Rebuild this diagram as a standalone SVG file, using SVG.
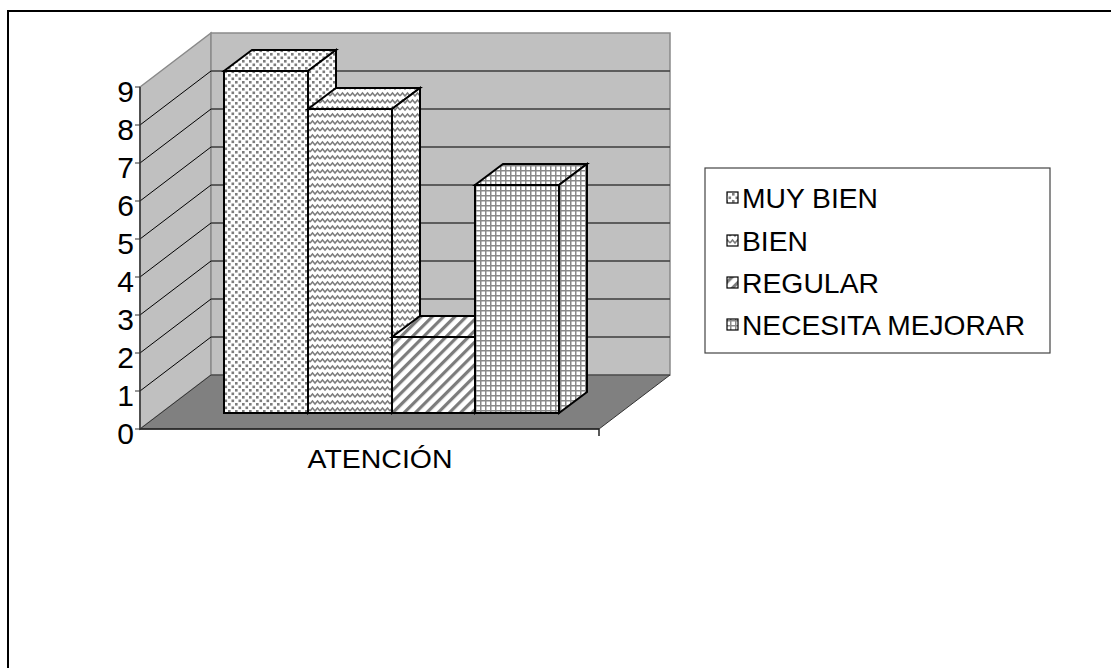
<svg xmlns="http://www.w3.org/2000/svg" width="1111" height="668" viewBox="0 0 1111 668">
<defs>
<pattern id="pDots" width="7" height="7" patternUnits="userSpaceOnUse">
<rect width="7" height="7" fill="#fff"/>
<rect x="0.5" y="0.5" width="2.6" height="2.6" fill="#7c7c7c"/>
<rect x="4" y="4" width="2.6" height="2.6" fill="#7c7c7c"/>
</pattern>
<pattern id="pWave" width="10" height="7" patternUnits="userSpaceOnUse">
<rect width="10" height="7" fill="#fff"/>
<path d="M0,5 L2.5,2 L5,5 L7.5,2 L10,5" fill="none" stroke="#7c7c7c" stroke-width="1.5"/>
</pattern>
<pattern id="pDiag" width="8" height="8" patternUnits="userSpaceOnUse" patternTransform="rotate(45)">
<rect width="8" height="8" fill="#fff"/>
<rect x="0" y="0" width="3.2" height="8" fill="#7c7c7c"/>
</pattern>
<pattern id="pGrid" width="5" height="5" patternUnits="userSpaceOnUse">
<rect width="5" height="5" fill="#fff"/>
<path d="M0,0.75 H5 M0.75,0 V5" stroke="#888" stroke-width="1.5"/>
</pattern>
<style>
.lbl{font-family:"Liberation Sans",Arial,sans-serif;fill:#000}
.ax{font-size:30px;text-anchor:end}
.lg{font-size:27px}
.face{stroke:#000;stroke-width:2;stroke-linejoin:miter}
.grid{stroke:#3c3c3c;stroke-width:1.3}
.sgrid{stroke:#000;stroke-width:1}
.wall{fill:#c0c0c0;stroke:#8a8a8a;stroke-width:1.5}
.ico{stroke:#000;stroke-width:1.2}
</style>
</defs>
<rect x="8" y="11" width="1120" height="700" fill="#fff" stroke="#000" stroke-width="2"/>
<g id="plot-area">
<polygon class="wall" points="140,87 211,33 211,375 140,429"/>
<rect class="wall" x="211" y="33" width="459" height="342"/>
<g>
<line class="grid" x1="211" y1="71" x2="670" y2="71"/>
<line class="grid" x1="211" y1="109" x2="670" y2="109"/>
<line class="grid" x1="211" y1="147" x2="670" y2="147"/>
<line class="grid" x1="211" y1="185" x2="670" y2="185"/>
<line class="grid" x1="211" y1="223" x2="670" y2="223"/>
<line class="grid" x1="211" y1="261" x2="670" y2="261"/>
<line class="grid" x1="211" y1="299" x2="670" y2="299"/>
<line class="grid" x1="211" y1="337" x2="670" y2="337"/>
<line class="sgrid" x1="140" y1="125" x2="211" y2="71"/>
<line class="sgrid" x1="140" y1="163" x2="211" y2="109"/>
<line class="sgrid" x1="140" y1="201" x2="211" y2="147"/>
<line class="sgrid" x1="140" y1="239" x2="211" y2="185"/>
<line class="sgrid" x1="140" y1="277" x2="211" y2="223"/>
<line class="sgrid" x1="140" y1="315" x2="211" y2="261"/>
<line class="sgrid" x1="140" y1="353" x2="211" y2="299"/>
<line class="sgrid" x1="140" y1="391" x2="211" y2="337"/>
</g>
<polygon points="140,429 211,375 670,375 599,429" fill="#808080" stroke="#333" stroke-width="1"/>
<line x1="140" y1="429" x2="599" y2="429" stroke="#222" stroke-width="1.5"/>
<line x1="599" y1="429" x2="599" y2="436" stroke="#222" stroke-width="1.5"/>
<line x1="140" y1="87" x2="140" y2="430" stroke="#333" stroke-width="1.5"/>
<path d="M135,87H140M135,125H140M135,163H140M135,201H140M135,239H140M135,277H140M135,315H140M135,353H140M135,391H140M135,429H140" stroke="#333" stroke-width="1.2"/>
</g>
<g id="axis-labels">
<text class="lbl ax" x="134" y="102">9</text>
<text class="lbl ax" x="134" y="140">8</text>
<text class="lbl ax" x="134" y="178">7</text>
<text class="lbl ax" x="134" y="216">6</text>
<text class="lbl ax" x="134" y="254">5</text>
<text class="lbl ax" x="134" y="292">4</text>
<text class="lbl ax" x="134" y="330">3</text>
<text class="lbl ax" x="134" y="368">2</text>
<text class="lbl ax" x="134" y="406">1</text>
<text class="lbl ax" x="134" y="444">0</text>
<text class="lbl" x="380" y="468" font-size="26" text-anchor="middle" textLength="145" lengthAdjust="spacingAndGlyphs">ATENCIÓN</text>
</g>
<g id="bar-muy-bien">
<polygon class="face" fill="url(#pDots)" points="224,71 252,50 336,50 308,71"/>
<polygon class="face" fill="url(#pDots)" points="308,71 336,50 336,392 308,413"/>
<rect class="face" fill="url(#pDots)" x="224" y="71" width="84" height="342"/>
</g>
<g id="bar-bien">
<polygon class="face" fill="url(#pWave)" points="308,109 336,88 420,88 392,109"/>
<polygon class="face" fill="url(#pWave)" points="392,109 420,88 420,392 392,413"/>
<rect class="face" fill="url(#pWave)" x="308" y="109" width="84" height="304"/>
</g>
<g id="bar-regular">
<polygon class="face" fill="url(#pDiag)" points="392,337 420,316 503,316 475,337"/>
<polygon class="face" fill="url(#pDiag)" points="475,337 503,316 503,392 475,413"/>
<rect class="face" fill="url(#pDiag)" x="392" y="337" width="83" height="76"/>
</g>
<g id="bar-necesita-mejorar">
<polygon class="face" fill="url(#pGrid)" points="475,185 503,164 587,164 559,185"/>
<polygon class="face" fill="url(#pGrid)" points="559,185 587,164 587,392 559,413"/>
<rect class="face" fill="url(#pGrid)" x="475" y="185" width="84" height="228"/>
</g>
<g id="legend">
<rect x="705" y="168" width="345" height="185" fill="#fff" stroke="#444" stroke-width="1.2"/>
<rect class="ico" x="727" y="192" width="11" height="11" fill="url(#pDots)"/>
<text class="lbl lg" x="742" y="208" textLength="136" lengthAdjust="spacingAndGlyphs">MUY BIEN</text>
<rect class="ico" x="727" y="235" width="11" height="11" fill="url(#pWave)"/>
<text class="lbl lg" x="742" y="251" textLength="66" lengthAdjust="spacingAndGlyphs">BIEN</text>
<rect class="ico" x="727" y="277" width="11" height="11" fill="url(#pDiag)"/>
<text class="lbl lg" x="742" y="293" textLength="137" lengthAdjust="spacingAndGlyphs">REGULAR</text>
<rect class="ico" x="727" y="319" width="11" height="11" fill="url(#pGrid)"/>
<text class="lbl lg" x="742" y="335" textLength="283" lengthAdjust="spacingAndGlyphs">NECESITA MEJORAR</text>
</g>
</svg>
